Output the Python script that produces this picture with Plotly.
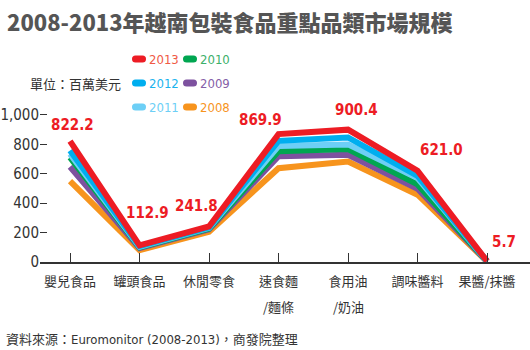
import plotly.graph_objects as go

categories = ["嬰兒食品", "罐頭食品", "休閒零食", "速食麵/麵條", "食用油/奶油", "調味醬料", "果醬/抹醬"]
tick_line1 = ["嬰兒食品", "罐頭食品", "休閒零食", "速食麵", "食用油", "調味醬料", "果醬/抹醬"]
tick_line2 = ["", "", "", "/麵條", "/奶油", "", ""]

years = ["2008", "2009", "2010", "2011", "2012", "2013"]
v2008 = [550, 80, 205, 638, 684, 458, 3.5]
v2009 = [648, 95, 222, 719, 730, 498, 3.9]
v2010 = [711, 100, 228, 754, 768, 528, 4.3]
v2011 = [735, 104, 232, 789, 800, 571, 4.8]
v2012 = [759, 108, 236, 824, 847, 586, 5.2]
v2013 = [822.2, 112.9, 241.8, 869.9, 900.4, 621.0, 5.7]
series = [v2008, v2009, v2010, v2011, v2012, v2013]
colors = ["#F7941D", "#7D519F", "#00A651", "#6DCFF6", "#00AEEF", "#ED1C24"]
text_colors = ["#F7941D", "#8560A8", "#3DB06A", "#6DCFF6", "#1AB3EE", "#F05A45"]

y_ticks = [0, 200, 400, 600, 800, 1000]
y_tick_text = ["0", "200", "400", "600", "800", "1,000"]

label_shift = [(2, 16), (8, 32), (-13, 20), (-18, 14), (8, 20), (24, 21), (17, 19)]

W, H = 530, 350
L, R, T, B = 40, 0, 100, 88

def px(xp):
    return (xp - L) / (W - L - R)

def py(yp):
    return (H - B - yp) / (H - T - B)

def cond(s):
    return "<span style=\"font-stretch:condensed\">" + s + "</span>"

fig = go.Figure()
for name, vals, c in zip(years, series, colors):
    fig.add_trace(go.Scatter(x=categories, y=vals, mode="lines", name=name,
                             line=dict(color=c, width=6), showlegend=False))

narrow = "DejaVu Sans"
cjk = "Noto Sans CJK TC"

annotations = []
for cat, v, (dx, dy) in zip(categories, v2013, label_shift):
    annotations.append(dict(x=cat, y=v, xref="x", yref="y", text=cond("<b>%.1f</b>" % v),
                            showarrow=False, xshift=dx, yshift=dy,
                            font=dict(family=narrow, size=15, color="#ED1C24")))

for cat, t2 in zip(categories, tick_line2):
    if t2:
        annotations.append(dict(x=cat, y=0, xref="x", yref="y", text=t2, showarrow=False,
                                yanchor="middle", yshift=-44,
                                font=dict(family=cjk, size=13, color="#333333")))

# title
annotations.append(dict(x=px(5), y=py(3), xref="paper", yref="paper", xanchor="left", yanchor="top",
                        text="2008-2013年越南包裝食品重點品類市場規模", showarrow=False,
                        font=dict(family=cjk, size=22, color="#555555", weight=900)))
# unit
annotations.append(dict(x=px(123), y=py(83), xref="paper", yref="paper", xanchor="right", yanchor="middle",
                        text="單位：百萬美元", showarrow=False,
                        font=dict(family=cjk, size=13, color="#333333")))
# source
annotations.append(dict(x=px(4), y=py(338), xref="paper", yref="paper", xanchor="left", yanchor="middle",
                        text="資料來源：<span style=\"font-family:'DejaVu Sans';font-stretch:condensed\">Euromonitor (2008-2013)</span>，商發院整理",
                        showarrow=False,
                        font=dict(family=cjk, size=13, color="#333333")))

# legend (2 columns x 3 rows)
legend_order = [("2013", 0, 0), ("2010", 1, 0), ("2012", 0, 1), ("2009", 1, 1), ("2011", 0, 2), ("2008", 1, 2)]
shapes = []
for name, col, row in legend_order:
    i = years.index(name)
    x0 = 132 + col * 51
    x1 = x0 + 14
    yc = 59 + row * 24
    h = 3.5
    r = 3.5
    pts = lambda a, b: "%f,%f" % (px(a), py(b))
    path = ("M " + pts(x0 + r, yc - h) + " L " + pts(x1 - r, yc - h) +
            " Q " + pts(x1, yc - h) + " " + pts(x1, yc) +
            " Q " + pts(x1, yc + h) + " " + pts(x1 - r, yc + h) +
            " L " + pts(x0 + r, yc + h) +
            " Q " + pts(x0, yc + h) + " " + pts(x0, yc) +
            " Q " + pts(x0, yc - h) + " " + pts(x0 + r, yc - h) + " Z")
    shapes.append(dict(type="path", xref="paper", yref="paper", path=path,
                       fillcolor=colors[i], line=dict(width=0)))
    annotations.append(dict(x=px(x1 + 1), y=py(yc), xref="paper", yref="paper", xanchor="left", yanchor="middle",
                            text=cond(name), showarrow=False,
                            font=dict(family=narrow, size=13, color=text_colors[i])))

fig.update_layout(
    width=W, height=H,
    margin=dict(l=L, r=R, t=T, b=B),
    paper_bgcolor="white", plot_bgcolor="white",
    shapes=shapes, annotations=annotations,
    xaxis=dict(type="category", range=[-0.432, 6.618], tickvals=categories, ticktext=tick_line1,
               showgrid=False, showline=True, linecolor="#333333", linewidth=1.5,
               ticks="inside", ticklen=9, tickcolor="#333333", tickwidth=1,
               ticklabelstandoff=7,
               tickfont=dict(family=cjk, size=13, color="#333333"), zeroline=False),
    yaxis=dict(range=[0, 1102], tickvals=y_ticks, ticktext=[cond(t) for t in y_tick_text], showgrid=False,
               showline=False, zeroline=False, ticks="inside", ticklen=7, tickcolor="#333333",
               tickfont=dict(family=narrow, size=15, color="#333333")),
)

fig.write_html("out.html")
